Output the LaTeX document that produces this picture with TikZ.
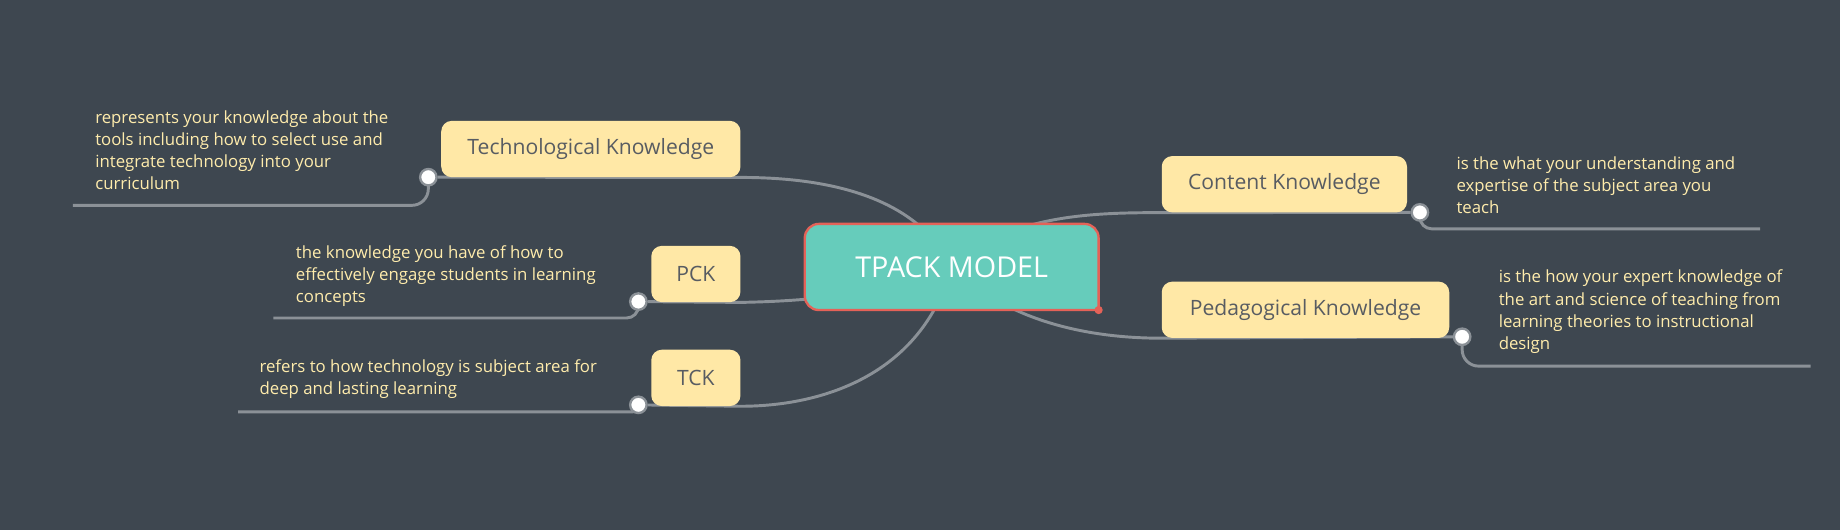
\documentclass[tikz,border=0pt]{standalone}
\usepackage{fontspec}
\setmainfont{Open Sans}
\usetikzlibrary{positioning}

\definecolor{slate}{RGB}{62,71,80}
\definecolor{wire}{RGB}{139,145,151}
\definecolor{mint}{RGB}{102,204,187}
\definecolor{coral}{RGB}{228,98,88}
\definecolor{butter}{RGB}{255,232,166}
\definecolor{topictext}{RGB}{88,92,98}
\definecolor{notetext}{RGB}{255,236,172}

\pgfdeclarelayer{backdrop}
\pgfdeclarelayer{links}
\pgfsetlayers{backdrop,links,main}

\tikzset{
  topic/.style={fill=butter, rounded corners=9pt, text=topictext, inner sep=0pt,
    minimum height=48pt, font=\fontsize{18}{21}\selectfont},
  note/.style={anchor=north west, align=left, inner sep=0pt, text=notetext,
    font=\fontsize{14.3}{18.8}\selectfont},
  knob/.style={circle, fill=white, draw=wire, line width=2pt, minimum size=14pt, inner sep=0pt},
  link/.style={draw=wire, line width=2.5pt},
}

\begin{document}
\begin{tikzpicture}[x=1pt, y=-1pt]
        \begin{pgfonlayer}{backdrop}
            \fill[slate] (0,0) rectangle (1568,452);
        \end{pgfonlayer}
        \useasboundingbox (0,0) rectangle (1568,452);

        \node[minimum width=250pt, minimum height=73pt, text=white, font=\fontsize{24.5}{28}\selectfont] (TPACK) at (811,227.5) {TPACK MODEL};

        \node[topic, minimum width=255pt] (TK) at (503.5,127) {Technological Knowledge};
        \node[topic, minimum width=76pt] (PCK) at (593,233.5) {PCK};
        \node[topic, minimum width=76pt] (TCK) at (593,322) {TCK};
        \node[topic, minimum width=209pt] (CK) at (1094.5,157) {Content Knowledge};
        \node[topic, minimum width=245pt] (PK) at (1112.5,264) {Pedagogical Knowledge};

        \node[knob] (TKknob) at (365,151) {};
        \node[knob] (PCKknob) at (544,257) {};
        \node[knob] (TCKknob) at (544,345) {};
        \node[knob] (CKknob) at (1210,181) {};
        \node[knob] (PKknob) at (1246,287) {};

        \coordinate (TKend) at (62,175);
        \coordinate (PCKend) at (233,271);
        \coordinate (TCKend) at (203,351);
        \coordinate (CKend) at (1500,195);
        \coordinate (PKend) at (1543,312);

        \node[note] (TKnote) at (81,94) {represents your knowledge about the\\tools including how to select use and\\integrate technology into your\\curriculum};
        \node[note] (PCKnote) at (252,209) {the knowledge you have of how to\\effectively engage students in learning\\concepts};
        \node[note] (TCKnote) at (221,306) {refers to how technology is subject area for\\deep and lasting learning};
        \node[note] (CKnote) at (1241,133) {is the what your understanding and\\expertise of the subject area you\\teach};
        \node[note] (PKnote) at (1277,230) {is the how your expert knowledge of\\the art and science of teaching from\\learning theories to instructional\\design};

        \begin{pgfonlayer}{links}
            \draw[link] (TKknob) -- (TK.south east) .. controls +(69,0) and +(-31,-62.5) .. (TPACK.center);
            \draw[link] (PCKknob) -- (PCK.south east) .. controls +(50,-1) and +(-60,25) .. (TPACK.center);
            \draw[link] (TCKknob) -- (TCK.south east) .. controls +(69,0) and +(-26,92.5) .. (TPACK.center);
            \draw[link] (CKknob) -- (CK.south west) .. controls +(-60,0) and +(49,-44.5) .. (TPACK.center);
            \draw[link] (PKknob) -- (PK.south west) .. controls +(-60,0) and +(49,47.5) .. (TPACK.center);

            \draw[link, rounded corners=14pt] (TKknob.center) |- (TKend);
            \draw[link, rounded corners=10pt] (PCKknob.center) |- (PCKend);
            \draw[link, rounded corners=5pt] (TCKknob.center) |- (TCKend);
            \draw[link, rounded corners=10pt] (CKknob.center) |- (CKend);
            \draw[link, rounded corners=14pt] (PKknob.center) |- (PKend);

            % centre frame, square at the lower right
            \filldraw[fill=mint, draw=coral, line width=2pt] (TPACK.south east) [rounded corners=12pt] -- (TPACK.north east) -- (TPACK.north west) -- (TPACK.south west) -- (TPACK.south east);
        \end{pgfonlayer}
        \fill[coral] (TPACK.south east) circle (3.5pt);

    \end{tikzpicture}
\end{document}
